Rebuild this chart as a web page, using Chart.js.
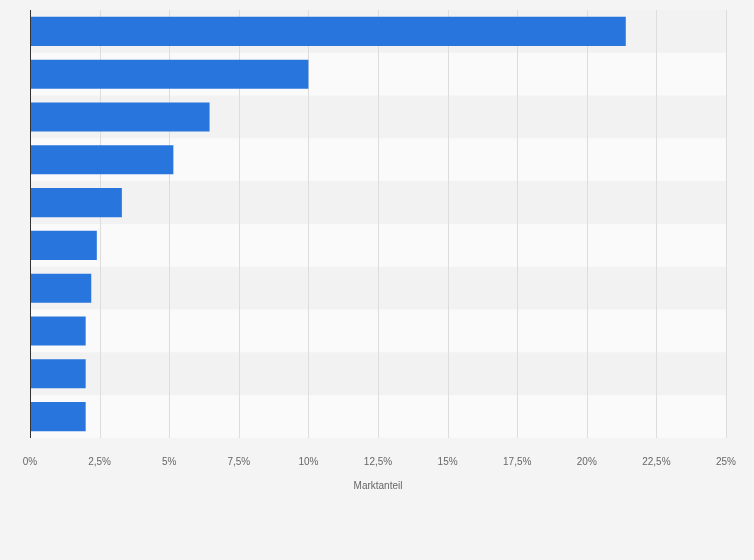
<!DOCTYPE html>
<html>
<head>
<meta charset="utf-8">
<script src="https://cdn.jsdelivr.net/npm/chart.js@4/dist/chart.umd.min.js"></script>
<style>
  html, body { margin: 0; padding: 0; background: #f4f4f4; }
  #wrap { width: 754px; height: 560px; }
</style>
</head>
<body>
<div id="wrap"><canvas id="chart"></canvas></div>
<script>
// Categories are not labelled in the picture
const categories = ['', ' ', '  ', '   ', '    ', '     ', '      ', '       ', '        ', '         '];
const shares = [21.4, 10.0, 6.45, 5.15, 3.3, 2.4, 2.2, 2.0, 2.0, 2.0];
const tickStep = 2.5;
const axisMax = 25;

// alternating row bands behind the bars
const bandPlugin = {
    id: 'bands',
    beforeDatasetsDraw(chart) {
        const ctx = chart.ctx;
        const area = chart.chartArea;
        const y = chart.scales.y;
        const step = (area.bottom - area.top) / categories.length;
        ctx.save();
        categories.forEach((c, i) => {
            const mid = y.getPixelForValue(i);
            ctx.fillStyle = i % 2 === 0 ? '#f2f2f2' : '#fafafa';
            ctx.fillRect(area.left, mid - step / 2, area.right - area.left, step);
        });
        // vertical grid on top of bands
        const x = chart.scales.x;
        ctx.strokeStyle = '#dddddd';
        ctx.lineWidth = 1;
        for (let v = tickStep; v <= axisMax; v += tickStep) {
            const px = Math.round(x.getPixelForValue(v)) + 0.5;
            ctx.beginPath();
            ctx.moveTo(px, area.top);
            ctx.lineTo(px, area.bottom);
            ctx.stroke();
        }
        ctx.restore();
    },
    afterDatasetsDraw(chart) {
        // dark axis line on the left
        const ctx = chart.ctx;
        const area = chart.chartArea;
        ctx.save();
        ctx.strokeStyle = '#333';
        ctx.lineWidth = 1;
        ctx.beginPath();
        ctx.moveTo(Math.round(area.left) + 0.5, area.top);
        ctx.lineTo(Math.round(area.left) + 0.5, area.bottom);
        ctx.stroke();
        ctx.restore();
    }
};

new Chart(document.getElementById('chart'), {
    type: 'bar',
    data: {
        labels: categories,
        datasets: [{
            data: shares,
            backgroundColor: '#2876dd',
            categoryPercentage: 0.68,
            barPercentage: 1
        }]
    },
    options: {
        indexAxis: 'y',
        responsive: true,
        maintainAspectRatio: false,
        animation: false,
        layout: { padding: { left: 22, right: 28, top: 10, bottom: 64 } },
        plugins: { legend: { display: false }, tooltip: { enabled: false } },
        scales: {
            x: {
                min: 0,
                max: axisMax,
                grid: { display: false },
                border: { display: false },
                ticks: {
                    stepSize: tickStep,
                    color: '#666',
                    font: { family: 'Arial, Liberation Sans', size: 10 },
                    padding: 10,
                    callback: v => String(v).replace('.', ',') + '%'
                },
                title: {
                    display: true,
                    text: 'Marktanteil',
                    color: '#666',
                    font: { family: 'Arial, Liberation Sans', size: 10 },
                    padding: { top: 2 }
                }
            },
            y: {
                grid: { display: false },
                border: { display: false },
                ticks: { display: false }
            }
        }
    },
    plugins: [bandPlugin]
});
</script>
</body>
</html>
